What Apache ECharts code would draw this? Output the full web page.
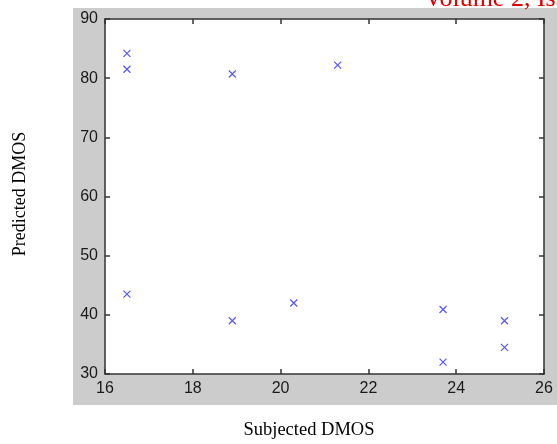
<!DOCTYPE html>
<html style="height: 100%">
<head>
    <meta charset="UTF-8">
    <title>Predicted vs Subjected DMOS</title>
    <script src="https://cdn.jsdelivr.net/npm/echarts@6.0.0/dist/echarts.min.js"></script>
    <style>
        body { margin: 0; background: #ffffff; }
        #chart { width: 557px; height: 444px; }
    </style>
</head>
<body>
    <div id="chart"></div>

    <script>
        // data
        var subjectedDmos = [16.5, 16.5, 18.9, 21.3, 16.5, 18.9, 20.3, 23.7, 23.7, 25.1, 25.1];
        var predictedDmos = [84.2, 81.5, 80.7, 82.2, 43.5, 39.0, 42.0, 40.9, 32.0, 39.0, 34.5];
        var xTicks = [16, 18, 20, 22, 24, 26];
        var yTicks = [30, 40, 50, 60, 70, 80, 90];

        var points = subjectedDmos.map(function (x, i) {
            return [x, predictedDmos[i]];
        });

        var tickFont = { color: '#1a1a1a', fontSize: 16, fontFamily: 'Arial, Liberation Sans, sans-serif' };
        var lineCol = '#333333';

        function xAxisDef(pos, labels) {
            return {
                type: 'value', position: pos,
                min: xTicks[0], max: xTicks[xTicks.length - 1], interval: 2,
                axisLine: { show: true, onZero: false, lineStyle: { color: lineCol, width: 1.5 } },
                axisTick: { show: true, inside: true, length: 5, lineStyle: { color: lineCol, width: 1.5 } },
                axisLabel: Object.assign({ show: labels, margin: 7 }, tickFont),
                splitLine: { show: false }
            };
        }
        function yAxisDef(pos, labels) {
            return {
                type: 'value', position: pos,
                min: yTicks[0], max: yTicks[yTicks.length - 1], interval: 10,
                axisLine: { show: true, onZero: false, lineStyle: { color: lineCol, width: 1.5 } },
                axisTick: { show: true, inside: true, length: 5, lineStyle: { color: lineCol, width: 1.5 } },
                axisLabel: Object.assign({ show: labels, margin: 7 }, tickFont),
                splitLine: { show: false }
            };
        }

        var option = {
            animation: false,
            backgroundColor: '#ffffff',
            grid: {
                left: 105, right: 13, top: 19, bottom: 70,
                show: true, backgroundColor: '#ffffff', borderWidth: 0
            },
            xAxis: [xAxisDef('bottom', true), xAxisDef('top', false)],
            yAxis: [yAxisDef('left', true), yAxisDef('right', false)],
            graphic: [
                {
                    type: 'rect', z: -10, silent: true,
                    shape: { x: 73, y: 8, width: 484, height: 397 },
                    style: { fill: '#cccccc' }
                },
                {
                    type: 'text', z: 10,
                    style: {
                        text: 'Volume 2, Issue', x: 424, y: 12,
                        fill: '#e00000', font: '26px "Liberation Serif", serif',
                        verticalAlign: 'bottom'
                    }
                },
                {
                    type: 'text',
                    style: {
                        text: 'Subjected DMOS', x: 309, y: 430,
                        fill: '#000000', font: '18.5px "Liberation Serif", serif',
                        align: 'center', verticalAlign: 'middle'
                    }
                },
                {
                    type: 'text', rotation: Math.PI / 2, x: 20, y: 194,
                    style: {
                        text: 'Predicted DMOS', x: 0, y: 0,
                        fill: '#000000', font: '18px "Liberation Serif", serif',
                        align: 'center', verticalAlign: 'middle'
                    }
                }
            ],
            series: [{
                type: 'scatter',
                data: points,
                symbol: 'path://M0,0L10,10M10,0L0,10',
                symbolSize: 7,
                itemStyle: { color: 'transparent', borderColor: '#2a2aff', borderWidth: 1.2 }
            }]
        };

        var chart = echarts.init(document.getElementById('chart'));
        chart.setOption(option);
    </script>
</body>
</html>
